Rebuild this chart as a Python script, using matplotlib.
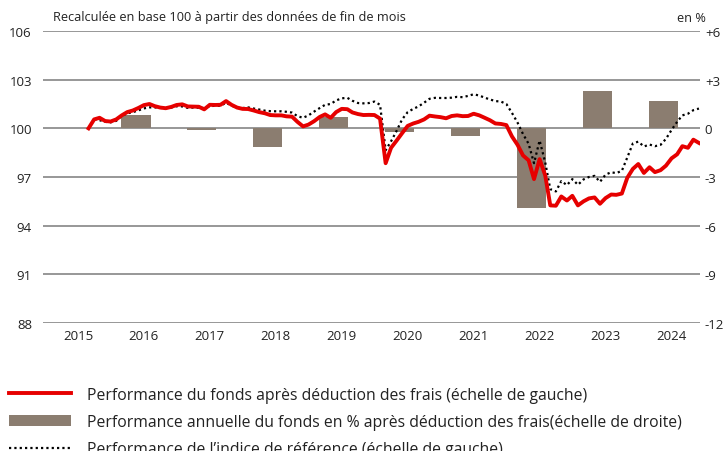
import numpy as np
import pandas as pd
import matplotlib
matplotlib.use("Agg")
import matplotlib.pyplot as plt
from matplotlib.lines import Line2D
from matplotlib.patches import Patch

plt.rcParams['font.family'] = ['Open Sans', 'DejaVu Sans']

# ---- data (monthly, Feb 2015 - May 2024), base 100 ----
fund = [100.0, 100.55, 100.65, 100.45, 100.42, 100.55, 100.8, 101.0, 101.1, 101.25,
        101.43, 101.5, 101.37, 101.28, 101.24, 101.32, 101.44, 101.48, 101.35, 101.34,
        101.33, 101.17, 101.45, 101.44, 101.45, 101.68, 101.45, 101.28, 101.2, 101.19,
        101.1, 101.0, 100.93, 100.82, 100.8, 100.8, 100.74, 100.72, 100.4, 100.12,
        100.23, 100.44, 100.7, 100.86, 100.65, 101.0, 101.2, 101.18, 100.98, 100.88,
        100.82, 100.83, 100.82, 100.6, 97.85, 98.8, 99.25, 99.7, 100.15, 100.3,
        100.4, 100.55, 100.78, 100.73, 100.69, 100.62, 100.76, 100.8, 100.75, 100.76,
        100.9, 100.8, 100.66, 100.5, 100.3, 100.27, 100.2, 99.5, 98.98, 98.33,
        98.03, 96.87, 98.1, 97.1, 95.25, 95.23, 95.8, 95.55, 95.84, 95.25,
        95.5, 95.68, 95.74, 95.35, 95.7, 95.92, 95.9, 95.98, 96.95, 97.5,
        97.8, 97.25, 97.6, 97.3, 97.42, 97.7, 98.15, 98.4, 98.9, 98.8,
        99.3, 99.1]

benchmark = [100.0, 100.55, 100.5, 100.4, 100.37, 100.46, 100.78, 100.92, 101.0, 101.1,
             101.23, 101.29, 101.29, 101.26, 101.24, 101.28, 101.36, 101.35, 101.26, 101.28,
             101.27, 101.25, 101.37, 101.39, 101.39, 101.58, 101.4, 101.27, 101.25, 101.29,
             101.22, 101.16, 101.09, 101.06, 101.05, 101.05, 101.02, 100.97, 100.75, 100.65,
             100.8, 101.03, 101.25, 101.45, 101.5, 101.72, 101.85, 101.88, 101.7, 101.56,
             101.54, 101.56, 101.65, 101.45, 98.65, 99.2, 99.85, 100.55, 101.0, 101.2,
             101.35, 101.58, 101.82, 101.88, 101.87, 101.87, 101.89, 101.94, 101.92, 102.0,
             102.1, 102.02, 101.9, 101.78, 101.68, 101.65, 101.5, 100.95, 100.35, 99.65,
             99.05, 97.85, 99.25, 97.9, 96.25, 96.11, 96.75, 96.5, 96.87, 96.52,
             96.85, 97.0, 97.07, 96.7, 97.15, 97.29, 97.24, 97.38, 98.2, 99.07,
             99.18, 98.88, 99.0, 98.9, 98.98, 99.35, 99.9, 100.4, 100.8, 100.9,
             101.12, 101.22]

bar_years = [2015, 2016, 2017, 2018, 2019, 2020, 2021, 2022, 2023]
bar_values = [0.84, -0.12, -1.17, 0.72, -0.21, -0.45, -4.9, 2.28, 1.68]

year_ticks = [2015, 2016, 2017, 2018, 2019, 2020, 2021, 2022, 2023, 2024]
left_ticks = [88, 91, 94, 97, 100, 103, 106]
right_ticks = [-12, -9, -6, -3, 0, 3, 6]
right_labels = ['-12', '-9', '-6', '-3', '0', '+3', '+6']

labels = ["Performance du fonds après déduction des frais (échelle de gauche)",
          "Performance annuelle du fonds en % après déduction des frais(échelle de droite)",
          "Performance de l\u2019indice de référence (échelle de gauche)"]

RED = '#e60000'
TAUPE = '#8b7d70'
GRID = '#7a7a7a'
TXT = '#222222'

dates = pd.date_range('2015-02-28', periods=len(fund), freq='ME')
x = dates.year + (dates.dayofyear - 0.5) / np.where(dates.is_leap_year, 366, 365)
bar_x = [y + 0.88 for y in bar_years]

fig = plt.figure(figsize=(7.26, 4.52), dpi=100)
W, H = 726, 452
ax = fig.add_axes([43 / W, 1 - 324 / H, (700 - 43) / W, (324 - 32) / H])
ax2 = ax.twinx()
ax.set_zorder(2)
ax2.set_zorder(1)
ax.patch.set_visible(False)

# right axis: grid + bars
ax2.set_ylim(-12, 6)
ax2.set_yticks(right_ticks)
ax2.set_yticklabels(right_labels)
ax2.grid(axis='y', color=GRID, lw=1.1)
ax2.set_axisbelow(True)
ax2.bar(bar_x, bar_values, width=0.44, color=TAUPE, zorder=2)

# left axis: lines
ax.plot(x, benchmark, color='black', lw=1.6, ls=(0, (1, 1.4)), zorder=3)
ax.plot(x, fund, color=RED, lw=2.8, zorder=4, solid_joinstyle='round')
ax.set_ylim(88, 106)
ax.set_yticks(left_ticks)
ax.set_xlim(2014.47, 2024.43)
ax.set_xticks(year_ticks)
ax.set_xticklabels([str(y) for y in year_ticks])

for a in (ax, ax2):
    for s in a.spines.values():
        s.set_visible(False)
ax.tick_params(axis='x', length=0, pad=4, labelsize=9.5, labelcolor=TXT)
ax.tick_params(axis='y', length=0, pad=8, labelsize=9.5, labelcolor=TXT)
ax2.tick_params(axis='y', length=0, pad=3.5, labelsize=9.5, labelcolor=TXT)

fig.text(53 / W, 1 - 18 / H, "Recalculée en base 100 à partir des données de fin de mois",
         fontsize=9.15, color=TXT, va='center', ha='left')
fig.text(706 / W, 1 - 18 / H, "en %", fontsize=9.15, color=TXT, va='center', ha='right')

handles = [Line2D([], [], color=RED, lw=2.8),
           Patch(facecolor=TAUPE, edgecolor='none'),
           Line2D([], [], color='black', lw=1.6, ls=(0, (1, 1.4)))]
fig.legend(handles, labels, loc='lower left', bbox_to_anchor=(9 / W, -0.014),
           frameon=False, fontsize=11.3, handlelength=3.95, handletextpad=1.0,
           labelspacing=0.72, borderpad=0, borderaxespad=0, labelcolor=TXT)

fig.savefig('out.png', dpi=100)
